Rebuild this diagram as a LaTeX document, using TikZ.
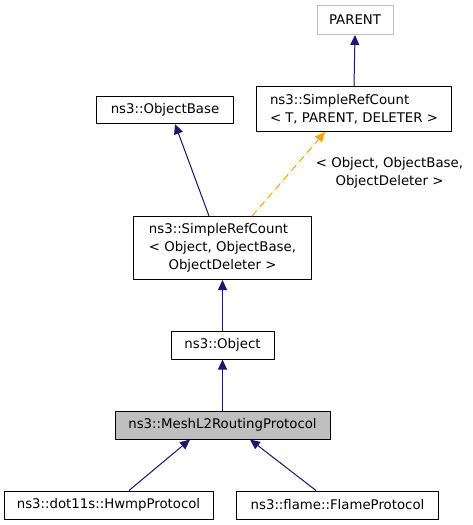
\documentclass[tikz,border=0pt]{standalone}
\usepackage{fontspec}
\setmainfont{DejaVu Sans}
\usetikzlibrary{arrows.meta}
\begin{document}
\begin{tikzpicture}[x=1pt, y=-1pt, font=\fontsize{13.3}{17.7}\selectfont, line join=round,
  >={Triangle[length=10pt,width=9pt]},
  cls/.style={draw=black, line width=1pt, fill=white, inner sep=2pt, minimum height=28pt},
  inh/.style={->, draw=midnightblue, fill=midnightblue, line width=1pt},
  tmpl/.style={->, draw=tmplorange, fill=tmplorange, line width=1pt, dash pattern=on 7pt off 5pt}]
\definecolor{midnightblue}{RGB}{25,25,112}
\definecolor{tmplorange}{RGB}{255,165,0}
\useasboundingbox (0,0) rectangle (473,525);
% classes
\node[cls, draw=black!25, minimum width=76pt, minimum height=29pt] (parent) at (355,20) {PARENT};
\node[cls, minimum width=195pt, minimum height=45pt, align=left] (srct) at (354,109)
  {ns3::SimpleRefCount\\< T, PARENT, DELETER >};
\node[cls, minimum width=137pt, minimum height=27pt] (objbase) at (165,110) {ns3::ObjectBase};
\node[cls, minimum width=178pt, minimum height=63pt] (src) at (222.5,248)
  {\begin{tabular}{@{}l@{}}ns3::SimpleRefCount\\< Object, ObjectBase,\\
   \multicolumn{1}{@{}c@{}}{ObjectDeleter >}\end{tabular}};
\node[cls, minimum width=103pt] (object) at (222.5,345) {ns3::Object};
\node[cls, fill=black!25, minimum width=215pt] (mesh) at (222.5,425) {ns3::MeshL2RoutingProtocol};
\node[cls, minimum width=209pt] (hwmp) at (108.5,505) {ns3::dot11s::HwmpProtocol};
\node[cls, minimum width=202pt] (flame) at (337.5,505) {ns3::flame::FlameProtocol};
\node[align=center, inner sep=0pt] (lbl) at (389.5,173) {< Object, ObjectBase,\\ObjectDeleter >};
% inheritance
\draw[inh] (srct.north) -- (parent.south);
\draw[inh] ([xshift=-13.5pt]src.north) -- ([xshift=10pt]objbase.south);
\draw[tmpl] ([xshift=29.5pt]src.north) -- ([xshift=-29pt]srct.south);
\draw[inh] (object.north) -- (src.south);
\draw[inh] (mesh.north) -- (object.south);
\draw[inh] ([xshift=20.5pt]hwmp.north) -- ([xshift=-32.5pt]mesh.south);
\draw[inh] ([xshift=-21.5pt]flame.north) -- ([xshift=27.5pt]mesh.south);
\end{tikzpicture}
\end{document}
